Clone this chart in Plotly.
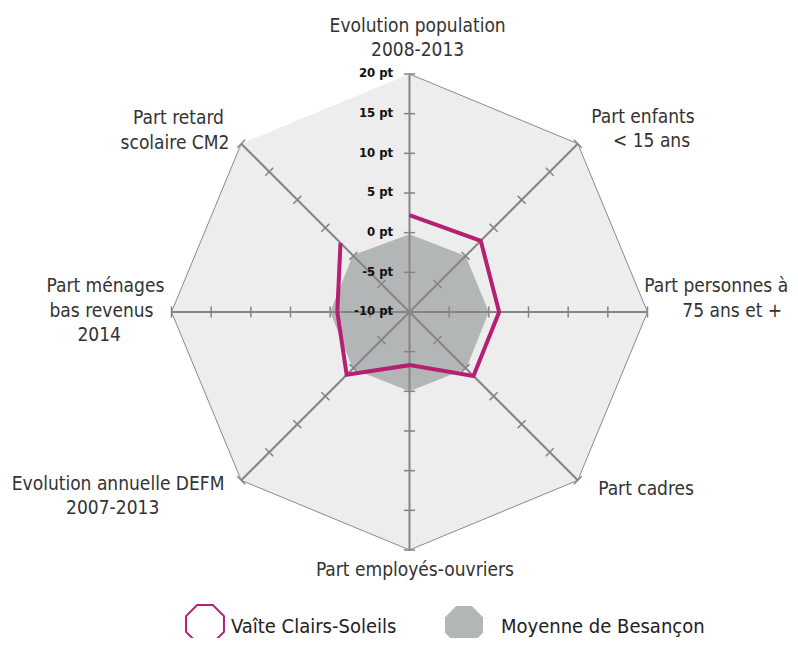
import math
import plotly.graph_objects as go

NB = "\u00a0"

# ---------------- data ----------------
categories = [
    "Evolution population 2008-2013",
    "Part enfants < 15 ans",
    "Part personnes à 75 ans et +",
    "Part cadres",
    "Part employés-ouvriers",
    "Evolution annuelle DEFM 2007-2013",
    "Part ménages bas revenus 2014",
    "Part retard scolaire CM2",
]
vaite = [2.2, 2.7, 1.3, 1.4, -3.3, 1.2, -0.9, 2.3]
moyenne = [-0.2, 0.0, 0.0, 0.1, 0.0, 0.1, 0.0, 0.1]
tick_vals = [-10, -5, 0, 5, 10, 15, 20]
tick_text = ["-10 pt", "-5 pt", "0 pt", "5 pt", "10 pt", "15 pt", "20 pt"]
series_names = ["Vaîte Clairs-Soleils", "Moyenne de Besançon"]

# displayed (wrapped) category labels
label_text = [
    NB * 3 + "Evolution population<br>" + NB * 3 + "2008-2013",
    "Part enfants<br>" + NB * 4 + "< 15 ans",
    "Part personnes à<br>" + NB * 7 + "75 ans et +<br>" + NB,
    NB * 2 + "Part cadres",
    NB * 2 + "Part employés-ouvriers",
    "Evolution annuelle DEFM<br>2007-2013" + NB * 12,
    "Part ménages<br>bas revenus" + NB * 2 + "<br>2014" + NB * 8,
    "Part retard" + NB + "<br>scolaire CM2",
]
label_r = [24.4, 22.4, 19.6, 21.7, 22.65, 23.0, 20.9, 22.1]
label_pos = ["middle center", "middle right", "middle right", "middle right",
             "middle center", "middle left", "middle left", "middle left"]

r_min, r_max = -10, 20      # chart scale (centre = -10 pt)
r_axis_max = 26             # extra room for the category labels


def rad(vals, floor=0.0):
    """radial position measured from the chart centre (-10 pt)"""
    return [max(v - r_min, floor) for v in vals]


FONT = "DejaVu Sans Condensed"
SPOKE = "#858585"
MAGENTA = "#b51f74"
GREY = "#b3b6b6"

W, H = 782, 630
CX, CY, R20 = 401.5, 304.0, 238.0          # centre and radius of the 20 pt level (px)
R_AX = R20 * (r_axis_max - r_min) / (r_max - r_min)

fig = go.Figure()

# chart background octagon (outer 20 pt level)
fig.add_trace(go.Scatterpolar(
    r=rad([r_max] * len(categories)), theta=categories, mode="lines",
    fill="toself", fillcolor="#ededed",
    line=dict(color="#8a8a8a", width=1), showlegend=False, hoverinfo="skip",
))

fig.add_trace(go.Scatterpolar(
    r=rad(moyenne), theta=categories, name=series_names[1],
    mode="lines", fill="toself", fillcolor=GREY,
    line=dict(color=GREY, width=0), showlegend=False,
    customdata=moyenne, hovertemplate="%{theta}: %{customdata} pt<extra></extra>",
))

# spokes with tick marks, drawn above the grey fill
for i, c in enumerate(categories):
    fig.add_trace(go.Scatterpolar(
        r=rad([r_min, r_max]), theta=[c, c], mode="lines",
        line=dict(color=SPOKE, width=2), showlegend=False, hoverinfo="skip",
    ))
    tv = [v for v in tick_vals if v > r_min]
    fig.add_trace(go.Scatterpolar(
        r=rad(tv), theta=[c] * len(tv), mode="markers",
        marker=dict(symbol="line-ew", size=8, angle=45 * i,
                    line=dict(color=SPOKE, width=1.5)),
        showlegend=False, hoverinfo="skip",
    ))

fig.add_trace(go.Scatterpolar(
    r=rad(vaite), theta=categories, name=series_names[0],
    mode="lines", fill="toself", fillcolor="rgba(0,0,0,0)",
    line=dict(color=MAGENTA, width=4), showlegend=False,
    customdata=vaite, hovertemplate="%{theta}: %{customdata} pt<extra></extra>",
))

# radial tick labels (a point exactly at the centre is not drawn by plotly,
# so the centre label sits a hair off it)
fig.add_trace(go.Scatterpolar(
    r=rad(tick_vals, floor=0.03), theta=[categories[0]] * len(tick_vals), mode="text",
    text=[t + NB * 4 for t in tick_text], textposition="middle left",
    textfont=dict(size=13, color="#111111", family=FONT, weight="bold"),
    cliponaxis=False, showlegend=False, hoverinfo="skip",
))

# category labels
fig.add_trace(go.Scatterpolar(
    r=rad(label_r), theta=categories, mode="text",
    text=label_text, textposition=label_pos,
    textfont=dict(size=19, color="#333333", family=FONT),
    cliponaxis=False, showlegend=False, hoverinfo="skip",
))

# legend (custom octagon icons)
def octagon(radius):
    pts = [(radius * math.cos(math.radians(22.5 + 45 * k)),
            radius * math.sin(math.radians(22.5 + 45 * k))) for k in range(8)]
    return "M " + " L ".join(f"{x:.2f},{y:.2f}" for x, y in pts) + " Z"

shapes = [
    dict(type="path", xref="paper", yref="paper", xsizemode="pixel", ysizemode="pixel",
         xanchor=197 / W, yanchor=1 - 616 / H, path=octagon(20.5),
         line=dict(color=MAGENTA, width=2), fillcolor="rgba(0,0,0,0)"),
    dict(type="path", xref="paper", yref="paper", xsizemode="pixel", ysizemode="pixel",
         xanchor=456 / W, yanchor=1 - 617 / H, path=octagon(20.5),
         line=dict(width=0), fillcolor=GREY),
]
annotations = [
    dict(text=series_names[0], xref="paper", yref="paper", x=221 / W, y=1 - 618 / H,
         xanchor="left", yanchor="middle", showarrow=False,
         font=dict(size=20, color="#222222", family=FONT)),
    dict(text=series_names[1], xref="paper", yref="paper", x=491 / W, y=1 - 618 / H,
         xanchor="left", yanchor="middle", showarrow=False,
         font=dict(size=20, color="#222222", family=FONT)),
]

fig.update_layout(
    width=W, height=H,
    margin=dict(l=0, r=0, t=0, b=0),
    paper_bgcolor="white",
    font=dict(family=FONT, color="#333333"),
    showlegend=False,
    shapes=shapes,
    annotations=annotations,
    polar=dict(
        domain=dict(x=[(CX - R_AX) / W, (CX + R_AX) / W],
                    y=[1 - (CY + R_AX) / H, 1 - (CY - R_AX) / H]),
        gridshape="linear",
        bgcolor="rgba(0,0,0,0)",
        angularaxis=dict(
            direction="clockwise", rotation=90,
            showgrid=False, showline=False,
            ticks="", showticklabels=False,
        ),
        radialaxis=dict(
            range=[0, r_axis_max - r_min], angle=90,
            showgrid=False, showline=False, ticks="", showticklabels=False,
        ),
    ),
)

fig.write_html("out.html")
